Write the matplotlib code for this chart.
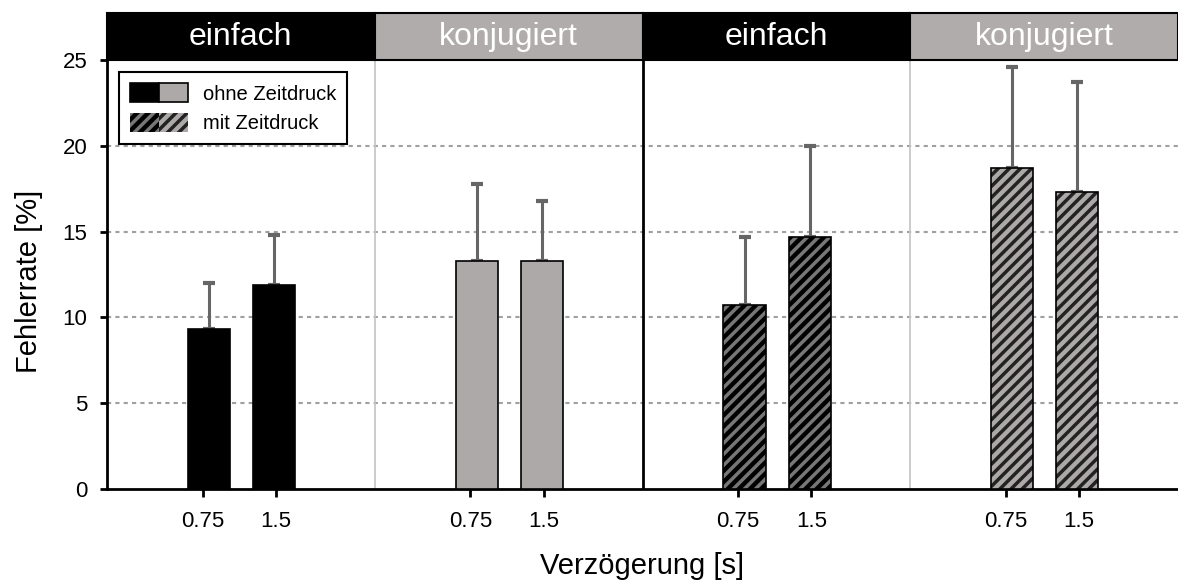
import matplotlib
matplotlib.use("Agg")
import matplotlib.pyplot as plt
from matplotlib.patches import Rectangle, Patch
from matplotlib.legend_handler import HandlerTuple
import numpy as np

plt.rcParams['font.family'] = ['Liberation Sans', 'DejaVu Sans']
plt.rcParams['hatch.linewidth'] = 2.5

# ---- data ----
panel_titles = ["einfach", "konjugiert", "einfach", "konjugiert"]
delay_labels = ["0.75", "1.5"]
error_rate = [[9.3, 11.9], [13.3, 13.3], [10.7, 14.7], [18.7, 17.3]]
error_upper = [[2.7, 2.9], [4.5, 3.5], [4.0, 5.3], [5.9, 6.4]]
legend_labels = ["ohne Zeitdruck", "mit Zeitdruck"]

BLACK = "#000000"
GRAY = "#ADA9A9"
HEADER_GRAY = "#B0ACAC"
panel_face = [BLACK, GRAY, BLACK, GRAY]
panel_hatched = [False, False, True, True]
hatch_color = {BLACK: "#777777", GRAY: "#222222"}

W, H = 1178, 581
fig = plt.figure(figsize=(W / 100, H / 100), dpi=100)
ax_l, ax_r, ax_b, ax_t = 107, 1178, 489, 60
ax = fig.add_axes([ax_l / W, 1 - ax_b / H, (ax_r - ax_l) / W, (ax_b - ax_t) / H])
hax = fig.add_axes([ax_l / W, 1 - ax_t / H, (ax_r - ax_l) / W, (ax_t - 13) / H])

bar_off = [0.381, 0.624]
bar_w = 0.157
tick_off = [0.357, 0.631]

for p in range(4):
    for j in range(2):
        x = p + bar_off[j]
        v = error_rate[p][j]
        fc = panel_face[p]
        if panel_hatched[p]:
            ax.bar(x, v, width=bar_w, color=fc, edgecolor=hatch_color[fc],
                   hatch="///", linewidth=0, zorder=3)
            ax.bar(x, v, width=bar_w, fill=False, edgecolor="black",
                   linewidth=1.2, zorder=4)
        else:
            ax.bar(x, v, width=bar_w, color=fc, edgecolor="black",
                   linewidth=1.2, zorder=3)
        ax.errorbar(x, v, yerr=[[0], [error_upper[p][j]]], fmt="none",
                    ecolor="#666666", elinewidth=2.2, capsize=4, capthick=3,
                    zorder=2)

ax.set_xlim(0, 4)
ax.set_ylim(0, 25)
ax.set_yticks([0, 5, 10, 15, 20, 25])
ax.tick_params(axis="y", labelsize=16, width=2, length=5, direction="out", pad=9)
ticks = [p + t for p in range(4) for t in tick_off]
ax.set_xticks(ticks)
ax.set_xticklabels(delay_labels * 4, fontsize=16)
ax.tick_params(axis="x", width=2, length=6, direction="out", pad=10)

for y in [5, 10, 15, 20]:
    ax.axhline(y, color="#a0a0a0", linestyle=(0, (2, 2)), linewidth=1.5, zorder=1)

ax.axvline(1, color="#c4c4c4", linewidth=1.2, zorder=1)
ax.axvline(3, color="#c4c4c4", linewidth=1.2, zorder=1)
ax.axvline(2, color="black", linewidth=2, zorder=5)

for s in ["top", "right"]:
    ax.spines[s].set_visible(False)
ax.spines["left"].set_linewidth(2)
ax.spines["bottom"].set_linewidth(2)

ax.set_ylabel("Fehlerrate [%]", fontsize=21)
ax.yaxis.set_label_coords(-0.060, 0.483)
ax.set_xlabel("Verzögerung [s]", fontsize=21)
ax.xaxis.set_label_coords(0.5, -0.148)

# header
hax.set_xlim(0, 4)
hax.set_ylim(0, 1)
hax.axis("off")
for p in range(4):
    fc = BLACK if panel_face[p] == BLACK else HEADER_GRAY
    hax.add_patch(Rectangle((p, 0), 1, 1, facecolor=fc, edgecolor="black",
                            linewidth=1.5, clip_on=False))
    hax.text(p + 0.5, 0.48, panel_titles[p], color="white", fontsize=23,
             ha="center", va="center")

# legend
h1 = (Patch(facecolor=BLACK, edgecolor="black", linewidth=1.2),
      Patch(facecolor=GRAY, edgecolor="black", linewidth=1.2))
plt.rcParams['hatch.color'] = "#777777"
h2 = (Patch(facecolor=BLACK, edgecolor="#777777", hatch="///", linewidth=0),
      Patch(facecolor=GRAY, edgecolor="#222222", hatch="///", linewidth=0))
leg = ax.legend([h1, h2], legend_labels,
                handler_map={tuple: HandlerTuple(ndivide=None, pad=0)},
                loc="upper left", bbox_to_anchor=(0.011, 0.972),
                borderaxespad=0, fontsize=14.5, handlelength=2.9,
                handleheight=1.1, labelspacing=0.45, fancybox=False,
                edgecolor="black", framealpha=1, borderpad=0.55,
                handletextpad=0.72)
leg.get_frame().set_linewidth(1.5)
leg.set_zorder(10)

fig.savefig("out.png", dpi=100)
